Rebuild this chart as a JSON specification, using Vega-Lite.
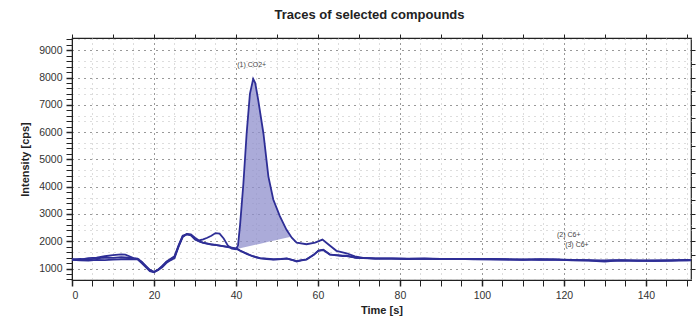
{
  "$schema": "https://vega.github.io/schema/vega-lite/v6.json",
  "width": 619,
  "height": 242,
  "autosize": "none",
  "padding": {"left": 72, "top": 38, "right": 9, "bottom": 41},
  "background": "white",
  "config": {
    "font": "Liberation Sans",
    "view": {"stroke": "#222", "strokeWidth": 1.2},
    "axis": {"labelFont": "Liberation Sans", "titleFont": "Liberation Sans", "labelColor": "#333", "titleColor": "#222", "domainColor": "#222", "tickColor": "#222"}
  },
  "title": {"text": "Traces of selected compounds", "fontSize": 13, "fontWeight": "bold", "color": "#222", "offset": 12, "dx": -12},
  "datasets": {
    "traces": [
      {"s": "1", "t": 0, "v": 1340}, {"s": "1", "t": 2, "v": 1330}, {"s": "1", "t": 4, "v": 1380}, {"s": "1", "t": 6, "v": 1400}, {"s": "1", "t": 8, "v": 1450}, {"s": "1", "t": 10, "v": 1490}, {"s": "1", "t": 12, "v": 1520}, {"s": "1", "t": 13, "v": 1510}, {"s": "1", "t": 14, "v": 1450}, {"s": "1", "t": 15, "v": 1380}, {"s": "1", "t": 16, "v": 1360}, {"s": "1", "t": 17, "v": 1250}, {"s": "1", "t": 18, "v": 1100}, {"s": "1", "t": 19, "v": 950}, {"s": "1", "t": 20, "v": 880}, {"s": "1", "t": 21, "v": 950}, {"s": "1", "t": 22, "v": 1050}, {"s": "1", "t": 23, "v": 1200}, {"s": "1", "t": 24, "v": 1300}, {"s": "1", "t": 25, "v": 1380}, {"s": "1", "t": 26, "v": 1800}, {"s": "1", "t": 27, "v": 2150}, {"s": "1", "t": 28, "v": 2270}, {"s": "1", "t": 29, "v": 2250}, {"s": "1", "t": 30, "v": 2130}, {"s": "1", "t": 31, "v": 2030}, {"s": "1", "t": 32, "v": 2070}, {"s": "1", "t": 33, "v": 2130}, {"s": "1", "t": 34, "v": 2200}, {"s": "1", "t": 35, "v": 2300}, {"s": "1", "t": 36, "v": 2280}, {"s": "1", "t": 37, "v": 2100}, {"s": "1", "t": 38, "v": 1850}, {"s": "1", "t": 39, "v": 1730}, {"s": "1", "t": 40, "v": 1710}, {"s": "1", "t": 40.5, "v": 1850}, {"s": "1", "t": 41, "v": 2600}, {"s": "1", "t": 41.8, "v": 4100}, {"s": "1", "t": 42.6, "v": 5950}, {"s": "1", "t": 43.4, "v": 7400}, {"s": "1", "t": 44.2, "v": 7950}, {"s": "1", "t": 44.7, "v": 7800}, {"s": "1", "t": 45.4, "v": 7200}, {"s": "1", "t": 46.7, "v": 5950}, {"s": "1", "t": 47.9, "v": 4380}, {"s": "1", "t": 49.1, "v": 3530}, {"s": "1", "t": 50.7, "v": 2920}, {"s": "1", "t": 52.3, "v": 2430}, {"s": "1", "t": 53.6, "v": 2130}, {"s": "1", "t": 54.8, "v": 1950}, {"s": "1", "t": 57.2, "v": 1890}, {"s": "1", "t": 59.3, "v": 1950}, {"s": "1", "t": 61.1, "v": 2060}, {"s": "1", "t": 62.5, "v": 1890}, {"s": "1", "t": 64.5, "v": 1650}, {"s": "1", "t": 67, "v": 1560}, {"s": "1", "t": 69, "v": 1450}, {"s": "1", "t": 71, "v": 1390}, {"s": "1", "t": 74, "v": 1370}, {"s": "1", "t": 78, "v": 1375}, {"s": "1", "t": 82, "v": 1360}, {"s": "1", "t": 86, "v": 1365}, {"s": "1", "t": 90, "v": 1355}, {"s": "1", "t": 94, "v": 1350}, {"s": "1", "t": 98, "v": 1345}, {"s": "1", "t": 102, "v": 1350}, {"s": "1", "t": 106, "v": 1340}, {"s": "1", "t": 110, "v": 1330}, {"s": "1", "t": 114, "v": 1345}, {"s": "1", "t": 118, "v": 1335}, {"s": "1", "t": 122, "v": 1320}, {"s": "1", "t": 126, "v": 1310}, {"s": "1", "t": 128, "v": 1290}, {"s": "1", "t": 130, "v": 1300}, {"s": "1", "t": 134, "v": 1310}, {"s": "1", "t": 138, "v": 1290}, {"s": "1", "t": 142, "v": 1295}, {"s": "1", "t": 146, "v": 1300}, {"s": "1", "t": 150, "v": 1320}, {"s": "1", "t": 151, "v": 1310},

      {"s": "2", "t": 0, "v": 1320}, {"s": "2", "t": 2, "v": 1300}, {"s": "2", "t": 4, "v": 1290}, {"s": "2", "t": 6, "v": 1320}, {"s": "2", "t": 8, "v": 1310}, {"s": "2", "t": 10, "v": 1330}, {"s": "2", "t": 12, "v": 1340}, {"s": "2", "t": 14, "v": 1350}, {"s": "2", "t": 16, "v": 1340}, {"s": "2", "t": 17, "v": 1200}, {"s": "2", "t": 18, "v": 1050}, {"s": "2", "t": 19, "v": 900}, {"s": "2", "t": 20, "v": 860}, {"s": "2", "t": 21, "v": 950}, {"s": "2", "t": 22, "v": 1080}, {"s": "2", "t": 23, "v": 1250}, {"s": "2", "t": 24, "v": 1350}, {"s": "2", "t": 25, "v": 1450}, {"s": "2", "t": 26, "v": 1850}, {"s": "2", "t": 27, "v": 2200}, {"s": "2", "t": 28, "v": 2260}, {"s": "2", "t": 29, "v": 2230}, {"s": "2", "t": 30, "v": 2060}, {"s": "2", "t": 31, "v": 1990}, {"s": "2", "t": 32, "v": 1940}, {"s": "2", "t": 34, "v": 1880}, {"s": "2", "t": 35.3, "v": 1855}, {"s": "2", "t": 37.7, "v": 1795}, {"s": "2", "t": 40.2, "v": 1720}, {"s": "2", "t": 41, "v": 1650}, {"s": "2", "t": 42.6, "v": 1540}, {"s": "2", "t": 44, "v": 1450}, {"s": "2", "t": 45.9, "v": 1370}, {"s": "2", "t": 47.5, "v": 1350}, {"s": "2", "t": 49.1, "v": 1330}, {"s": "2", "t": 51, "v": 1350}, {"s": "2", "t": 52.4, "v": 1370}, {"s": "2", "t": 54, "v": 1300}, {"s": "2", "t": 54.8, "v": 1260}, {"s": "2", "t": 56, "v": 1300}, {"s": "2", "t": 57.2, "v": 1330}, {"s": "2", "t": 59, "v": 1500}, {"s": "2", "t": 60.1, "v": 1660}, {"s": "2", "t": 61.3, "v": 1690}, {"s": "2", "t": 62.9, "v": 1510}, {"s": "2", "t": 64, "v": 1500}, {"s": "2", "t": 66, "v": 1470}, {"s": "2", "t": 67, "v": 1470}, {"s": "2", "t": 69.4, "v": 1390}, {"s": "2", "t": 71, "v": 1390}, {"s": "2", "t": 74, "v": 1360}, {"s": "2", "t": 78, "v": 1365}, {"s": "2", "t": 82, "v": 1355}, {"s": "2", "t": 86, "v": 1360}, {"s": "2", "t": 90, "v": 1350}, {"s": "2", "t": 94, "v": 1355}, {"s": "2", "t": 98, "v": 1340}, {"s": "2", "t": 102, "v": 1345}, {"s": "2", "t": 106, "v": 1335}, {"s": "2", "t": 110, "v": 1320}, {"s": "2", "t": 114, "v": 1335}, {"s": "2", "t": 118, "v": 1325}, {"s": "2", "t": 122, "v": 1300}, {"s": "2", "t": 126, "v": 1290}, {"s": "2", "t": 128, "v": 1270}, {"s": "2", "t": 130, "v": 1250}, {"s": "2", "t": 132, "v": 1280}, {"s": "2", "t": 134, "v": 1300}, {"s": "2", "t": 138, "v": 1280}, {"s": "2", "t": 142, "v": 1285}, {"s": "2", "t": 146, "v": 1290}, {"s": "2", "t": 150, "v": 1310}, {"s": "2", "t": 151, "v": 1300},

      {"s": "3", "t": 0, "v": 1330}, {"s": "3", "t": 2, "v": 1350}, {"s": "3", "t": 4, "v": 1330}, {"s": "3", "t": 6, "v": 1370}, {"s": "3", "t": 8, "v": 1400}, {"s": "3", "t": 10, "v": 1390}, {"s": "3", "t": 12, "v": 1420}, {"s": "3", "t": 14, "v": 1400}, {"s": "3", "t": 16, "v": 1350}, {"s": "3", "t": 17, "v": 1230}, {"s": "3", "t": 18, "v": 1080}, {"s": "3", "t": 19, "v": 930}, {"s": "3", "t": 20, "v": 870}, {"s": "3", "t": 21, "v": 960}, {"s": "3", "t": 22, "v": 1100}, {"s": "3", "t": 23, "v": 1230}, {"s": "3", "t": 24, "v": 1330}, {"s": "3", "t": 25, "v": 1420}, {"s": "3", "t": 26, "v": 1820}, {"s": "3", "t": 27, "v": 2180}, {"s": "3", "t": 28, "v": 2250}, {"s": "3", "t": 29, "v": 2220}, {"s": "3", "t": 30, "v": 2080}, {"s": "3", "t": 31, "v": 2000}, {"s": "3", "t": 32, "v": 1950}, {"s": "3", "t": 34, "v": 1890}, {"s": "3", "t": 35.3, "v": 1860}, {"s": "3", "t": 37.7, "v": 1800}, {"s": "3", "t": 40.2, "v": 1730}, {"s": "3", "t": 41, "v": 1660}, {"s": "3", "t": 42.6, "v": 1550}, {"s": "3", "t": 44, "v": 1460}, {"s": "3", "t": 45.9, "v": 1380}, {"s": "3", "t": 47.5, "v": 1360}, {"s": "3", "t": 49.1, "v": 1340}, {"s": "3", "t": 51, "v": 1345}, {"s": "3", "t": 52.4, "v": 1360}, {"s": "3", "t": 54, "v": 1310}, {"s": "3", "t": 54.8, "v": 1270}, {"s": "3", "t": 56, "v": 1310}, {"s": "3", "t": 57.2, "v": 1340}, {"s": "3", "t": 59, "v": 1510}, {"s": "3", "t": 60.1, "v": 1650}, {"s": "3", "t": 61.3, "v": 1680}, {"s": "3", "t": 62.9, "v": 1520}, {"s": "3", "t": 64, "v": 1490}, {"s": "3", "t": 66, "v": 1460}, {"s": "3", "t": 67, "v": 1460}, {"s": "3", "t": 69.4, "v": 1395}, {"s": "3", "t": 71, "v": 1385}, {"s": "3", "t": 74, "v": 1365}, {"s": "3", "t": 78, "v": 1360}, {"s": "3", "t": 82, "v": 1350}, {"s": "3", "t": 86, "v": 1365}, {"s": "3", "t": 90, "v": 1345}, {"s": "3", "t": 94, "v": 1350}, {"s": "3", "t": 98, "v": 1350}, {"s": "3", "t": 102, "v": 1340}, {"s": "3", "t": 106, "v": 1330}, {"s": "3", "t": 110, "v": 1335}, {"s": "3", "t": 114, "v": 1320}, {"s": "3", "t": 118, "v": 1330}, {"s": "3", "t": 122, "v": 1310}, {"s": "3", "t": 126, "v": 1300}, {"s": "3", "t": 128, "v": 1300}, {"s": "3", "t": 130, "v": 1280}, {"s": "3", "t": 132, "v": 1300}, {"s": "3", "t": 134, "v": 1290}, {"s": "3", "t": 138, "v": 1300}, {"s": "3", "t": 142, "v": 1280}, {"s": "3", "t": 146, "v": 1295}, {"s": "3", "t": 150, "v": 1300}, {"s": "3", "t": 151, "v": 1305}
    ],
    "peak": [
      {"t": 40.1, "v": 1710, "b": 1710},
      {"t": 40.5, "v": 1850, "b": 1724},
      {"t": 41, "v": 2600, "b": 1741},
      {"t": 41.8, "v": 4100, "b": 1768},
      {"t": 42.6, "v": 5950, "b": 1796},
      {"t": 43.4, "v": 7400, "b": 1823},
      {"t": 44.2, "v": 7950, "b": 1851},
      {"t": 44.7, "v": 7800, "b": 1868},
      {"t": 45.4, "v": 7200, "b": 1892},
      {"t": 46.7, "v": 5950, "b": 1937},
      {"t": 47.9, "v": 4380, "b": 1978},
      {"t": 49.1, "v": 3530, "b": 2019},
      {"t": 50.7, "v": 2920, "b": 2074},
      {"t": 52.3, "v": 2430, "b": 2129},
      {"t": 53.2, "v": 2160, "b": 2160}
    ],
    "labels": [
      {"t": 40.3, "v": 8450, "txt": "(1) CO2+"},
      {"t": 118.3, "v": 2230, "txt": "(2) C6+"},
      {"t": 120.3, "v": 1870, "txt": "(3) C6+"}
    ]
  },
  "resolve": {"axis": {"x": "independent", "y": "independent"}},
  "layer": [
    {
      "layer": [
        {
          "data": {"name": "peak"},
          "mark": {"type": "area", "color": "#8f8fcc", "opacity": 0.75},
          "encoding": {
            "x": {"field": "t", "type": "quantitative"},
            "y": {"field": "v", "type": "quantitative"},
            "y2": {"field": "b"}
          }
        },
        {
          "data": {"name": "traces"},
          "mark": {"type": "line", "color": "#2e2e96", "strokeWidth": 1.8},
          "encoding": {
            "x": {"field": "t", "type": "quantitative"},
            "y": {"field": "v", "type": "quantitative"},
            "detail": {"field": "s"}
          }
        }
      ],
      "encoding": {
        "x": {
          "field": "t", "type": "quantitative",
          "scale": {"domain": [0, 151], "nice": false, "zero": false},
          "axis": {
            "orient": "bottom",
            "title": "Time [s]",
            "titleFontSize": 11, "titleFontWeight": "bold", "titlePadding": 4,
            "values": [0,5,10,15,20,25,30,35,40,45,50,55,60,65,70,75,80,85,90,95,100,105,110,115,120,125,130,135,140,145,150],
            "labelExpr": "datum.value % 20 === 0 ? datum.label : ''",
            "labelFontSize": 10.5, "labelPadding": 4,
            "tickSize": 6,
            "tickWidth": {"condition": {"test": "datum.value % 20 === 0", "value": 1.5}, "value": 1},
            "grid": true,
            "gridDash": [1, 4],
            "gridColor": {"condition": {"test": "datum.value % 20 === 0", "value": "#333"}, "value": "#bbb"},
            "gridWidth": 1
          }
        },
        "y": {
          "field": "v", "type": "quantitative",
          "scale": {"domain": [580, 9450], "nice": false, "zero": false},
          "axis": {
            "orient": "left",
            "title": "Intensity [cps]",
            "titleFontSize": 11, "titleFontWeight": "bold", "titlePadding": 8,
            "values": [600,800,1000,1200,1400,1600,1800,2000,2200,2400,2600,2800,3000,3200,3400,3600,3800,4000,4200,4400,4600,4800,5000,5200,5400,5600,5800,6000,6200,6400,6600,6800,7000,7200,7400,7600,7800,8000,8200,8400,8600,8800,9000,9200,9400],
            "labelExpr": "datum.value % 1000 === 0 ? datum.label : ''",
            "format": "d",
            "labelFontSize": 10.5, "labelPadding": 4,
            "tickSize": 6,
            "tickWidth": {"condition": {"test": "datum.value % 1000 === 0", "value": 1.5}, "value": 1},
            "grid": true,
            "gridDash": [1, 5],
            "gridColor": {"condition": {"test": "datum.value % 1000 === 0", "value": "#333"}, "value": "#bbb"},
            "gridOpacity": {"condition": {"test": "datum.value % 1000 === 0 || datum.value % 1000 === 400 || datum.value % 1000 === 600", "value": 1}, "value": 0}
          }
        }
      }
    },
    {
      "data": {"name": "labels"},
      "mark": {"type": "text", "align": "left", "fontSize": 7, "color": "#444", "font": "Liberation Sans"},
      "encoding": {
        "x": {
          "field": "t", "type": "quantitative",
          "axis": {"orient": "top", "title": null, "labels": false, "grid": false, "domain": false, "tickSize": 4,
                   "values": [0,10,20,30,40,50,60,70,80,90,100,110,120,130,140,150]}
        },
        "y": {
          "field": "v", "type": "quantitative",
          "axis": {"orient": "right", "title": null, "labels": false, "grid": false, "domain": false, "tickSize": 4,
                   "values": [1000,1500,2000,2500,3000,3500,4000,4500,5000,5500,6000,6500,7000,7500,8000,8500,9000]}
        },
        "text": {"field": "txt"}
      }
    }
  ]
}
